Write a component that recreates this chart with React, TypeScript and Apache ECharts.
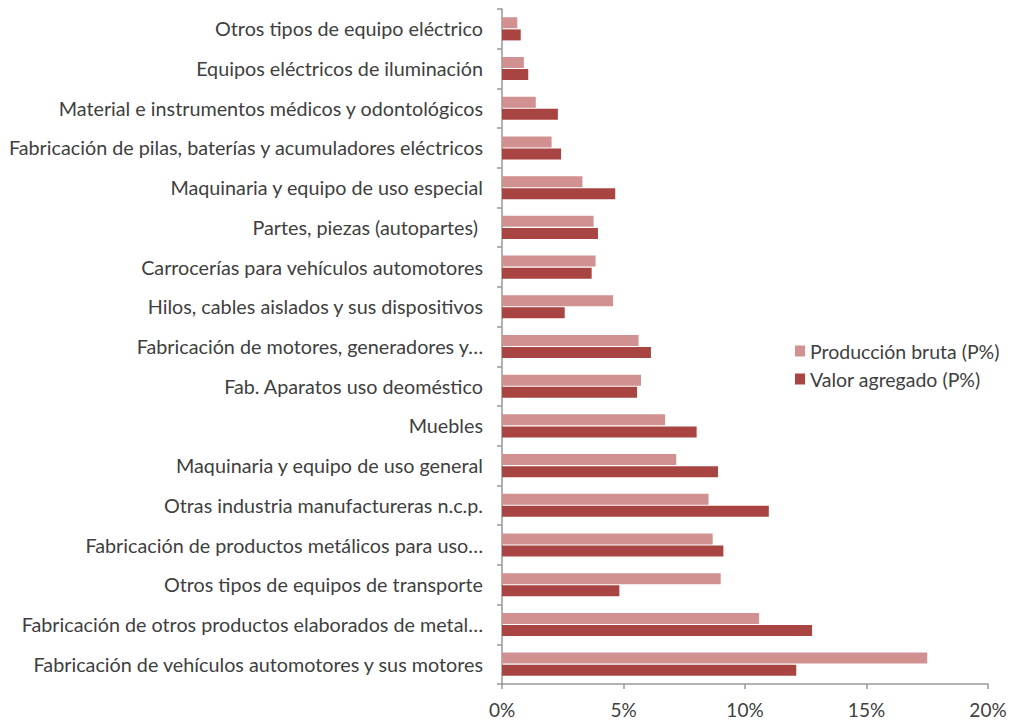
import React, { useEffect, useRef } from "react";
import * as echarts from "echarts";

const categories = [
  "Fabricación de vehículos automotores y sus motores",
  "Fabricación de otros productos elaborados de metal…",
  "Otros tipos de equipos de transporte",
  "Fabricación de productos metálicos para uso…",
  "Otras industria manufactureras n.c.p.",
  "Maquinaria y equipo de uso general",
  "Muebles",
  "Fab. Aparatos uso deoméstico",
  "Fabricación de motores, generadores y…",
  "Hilos, cables aislados y sus dispositivos",
  "Carrocerías para vehículos automotores",
  "Partes, piezas (autopartes) ",
  "Maquinaria y equipo de uso especial",
  "Fabricación de pilas, baterías y acumuladores eléctricos",
  "Material e instrumentos médicos y odontológicos",
  "Equipos eléctricos de iluminación",
  "Otros tipos de equipo eléctrico",
];

const produccionBruta = [17.5, 10.58, 9.0, 8.67, 8.5, 7.17, 6.71, 5.72, 5.62, 4.57, 3.85, 3.77, 3.31, 2.04, 1.39, 0.9, 0.63];
const valorAgregado = [12.11, 12.76, 4.83, 9.11, 10.98, 8.89, 8.01, 5.56, 6.13, 2.58, 3.69, 3.95, 4.66, 2.43, 2.3, 1.08, 0.77];

const xTicks = [0, 5, 10, 15, 20];

const FONT = "Lato, sans-serif";
const TEXT = "#404040";

export default function App() {
  const ref = useRef<HTMLDivElement>(null);
  useEffect(() => {
    if (!ref.current) return;
    const chart = echarts.init(ref.current, undefined, { renderer: "svg" });
    chart.setOption({
      animation: false,
      backgroundColor: "#ffffff",
      textStyle: { fontFamily: FONT },
      grid: { left: 502, right: 22, top: 9, bottom: 37, containLabel: false },
      legend: {
        orient: "vertical",
        left: 790,
        top: 336,
        itemWidth: 10,
        itemHeight: 11,
        itemGap: 8,
        icon: "rect",
        data: ["Producción bruta (P%)", "Valor agregado (P%)"],
        textStyle: { fontFamily: FONT, fontSize: 19.5, color: TEXT, padding: [0, 0, 0, 0] },
      },
      xAxis: {
        type: "value",
        min: xTicks[0],
        max: xTicks[xTicks.length - 1],
        interval: 5,
        splitLine: { show: false },
        axisLine: { show: true, lineStyle: { color: "#999999", width: 1.5 } },
        axisTick: { show: true, length: 5, lineStyle: { color: "#999999", width: 1.5 } },
        axisLabel: {
          formatter: (v: number) => `${v}%`,
          fontFamily: FONT,
          fontSize: 19,
          color: TEXT,
          margin: 16,
        },
      },
      yAxis: {
        type: "category",
        data: categories,
        axisLine: { show: true, lineStyle: { color: "#999999", width: 1.5 } },
        axisTick: { show: true, length: 5, lineStyle: { color: "#999999", width: 1.5 } },
        axisLabel: { fontFamily: FONT, fontSize: 19.75, color: TEXT, margin: 19 },
      },
      series: [
        {
          name: "Producción bruta (P%)",
          type: "bar",
          data: produccionBruta,
          itemStyle: { color: "#D19191" },
          barWidth: 11,
          barGap: "10%",
        },
        {
          name: "Valor agregado (P%)",
          type: "bar",
          data: valorAgregado,
          itemStyle: { color: "#A84542" },
          barWidth: 11,
          barGap: "10%",
        },
      ],
    });
    return () => chart.dispose();
  }, []);
  return <div ref={ref} style={{ width: 1010, height: 721, position: "absolute", left: 0, top: 0 }} />;
}
